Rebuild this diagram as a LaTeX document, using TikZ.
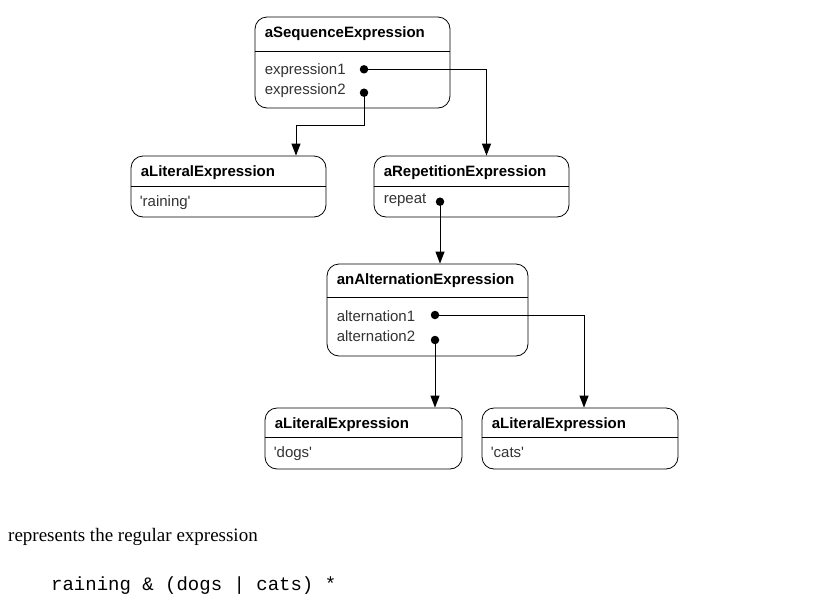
\documentclass[tikz,border=0pt]{standalone}
\usepackage{fontspec}
\setmainfont{Liberation Serif}
\setsansfont{Liberation Sans}
\setmonofont{Liberation Mono}
\usetikzlibrary{arrows.meta,positioning}

\begin{document}
\begin{tikzpicture}[x=1pt,y=-1pt]
\tikzstyle{obj}=[draw, rounded corners=12pt, line width=0.8pt, inner sep=0pt]
\tikzstyle{hdr}=[anchor=base west, inner sep=0pt, font=\sffamily\bfseries\fontsize{15}{18}\selectfont]
\tikzstyle{attr}=[anchor=base west, inner sep=0pt, text=black!80, font=\sffamily\fontsize{15}{18}\selectfont]
\tikzstyle{pin}=[circle, fill, inner sep=0pt, minimum size=8.5pt]
\tikzstyle{ref}=[line width=1pt, -{Triangle[width=9pt,length=12pt]}]
\useasboundingbox (0,0) rectangle (820,611);
\node [obj, minimum width=195pt, minimum height=91pt] (seq) at (352.5,62.5) {};
\draw [line width=0.8pt] ([yshift=-35pt]seq.north west) -- ([yshift=-35pt]seq.north east);
\node [hdr] (seqT) at ([xshift=10pt,yshift=-21pt]seq.north west) {aSequenceExpression};
\node [attr] (seqA1) at ([xshift=10pt,yshift=-57.5pt]seq.north west) {expression1};
\node [attr] (seqA2) at ([xshift=10pt,yshift=-78pt]seq.north west) {expression2};
\node [obj, minimum width=195pt, minimum height=61pt] (lit1) at (228.5,186.5) {};
\draw [line width=0.8pt] ([yshift=-31pt]lit1.north west) -- ([yshift=-31pt]lit1.north east);
\node [hdr] (lit1T) at ([xshift=10pt,yshift=-21pt]lit1.north west) {aLiteralExpression};
\node [attr] (lit1A) at ([xshift=9pt,yshift=-51pt]lit1.north west) {\textquotesingle raining\textquotesingle};
\node [obj, minimum width=195pt, minimum height=61pt] (rep) at (471.5,186.5) {};
\draw [line width=0.8pt] ([yshift=-31pt]rep.north west) -- ([yshift=-31pt]rep.north east);
\node [hdr] (repT) at ([xshift=10pt,yshift=-21pt]rep.north west) {aRepetitionExpression};
\node [attr] (repA) at ([xshift=10pt,yshift=-48pt]rep.north west) {repeat};
\node [obj, minimum width=201pt, minimum height=92pt] (alt) at (427.5,310) {};
\draw [line width=0.8pt] ([yshift=-34pt]alt.north west) -- ([yshift=-34pt]alt.north east);
\node [hdr] (altT) at ([xshift=10pt,yshift=-21pt]alt.north west) {anAlternationExpression};
\node [attr] (altA1) at ([xshift=10pt,yshift=-57.5pt]alt.north west) {alternation1};
\node [attr] (altA2) at ([xshift=10pt,yshift=-77.5pt]alt.north west) {alternation2};
\node [obj, minimum width=197pt, minimum height=61pt] (dogs) at (363.5,438.5) {};
\draw [line width=0.8pt] ([yshift=-30pt]dogs.north west) -- ([yshift=-30pt]dogs.north east);
\node [hdr] (dogsT) at ([xshift=10pt,yshift=-21pt]dogs.north west) {aLiteralExpression};
\node [attr] (dogsA) at ([xshift=9pt,yshift=-50pt]dogs.north west) {\textquotesingle dogs\textquotesingle};
\node [obj, minimum width=196pt, minimum height=61pt] (cats) at (580,438.5) {};
\draw [line width=0.8pt] ([yshift=-30pt]cats.north west) -- ([yshift=-30pt]cats.north east);
\node [hdr] (catsT) at ([xshift=10pt,yshift=-21pt]cats.north west) {aLiteralExpression};
\node [attr] (catsA) at ([xshift=9pt,yshift=-50pt]cats.north west) {\textquotesingle cats\textquotesingle};
\node [pin] (e1) at (364,69.3) {};
\node [pin] (e2) at (364,92.7) {};
\node [pin] (rp) at (440,201.7) {};
\node [pin] (a1) at (435,315) {};
\node [pin] (a2) at (435,340) {};
\draw [ref] (e1.center) -| ([xshift=15pt]rep.north);
\draw [ref] (e2.center) -- ++(0,32.5) -| ([xshift=67.5pt]lit1.north);
\draw [ref] (rp.center) -- ([xshift=12.5pt]alt.north);
\draw [ref] (a1.center) -| ([xshift=4pt]cats.north);
\draw [ref] (a2.center) -- ([xshift=71.5pt]dogs.north);
\node [anchor=base west, inner sep=0pt, font=\fontsize{19}{23}\selectfont] (caption) at (8,541) {represents the regular expression};
\node [anchor=base west, inner sep=0pt, font=\ttfamily\fontsize{19}{23}\selectfont] (regex) at (51,590) {raining \& (dogs | cats) *};
\end{tikzpicture}
\end{document}
